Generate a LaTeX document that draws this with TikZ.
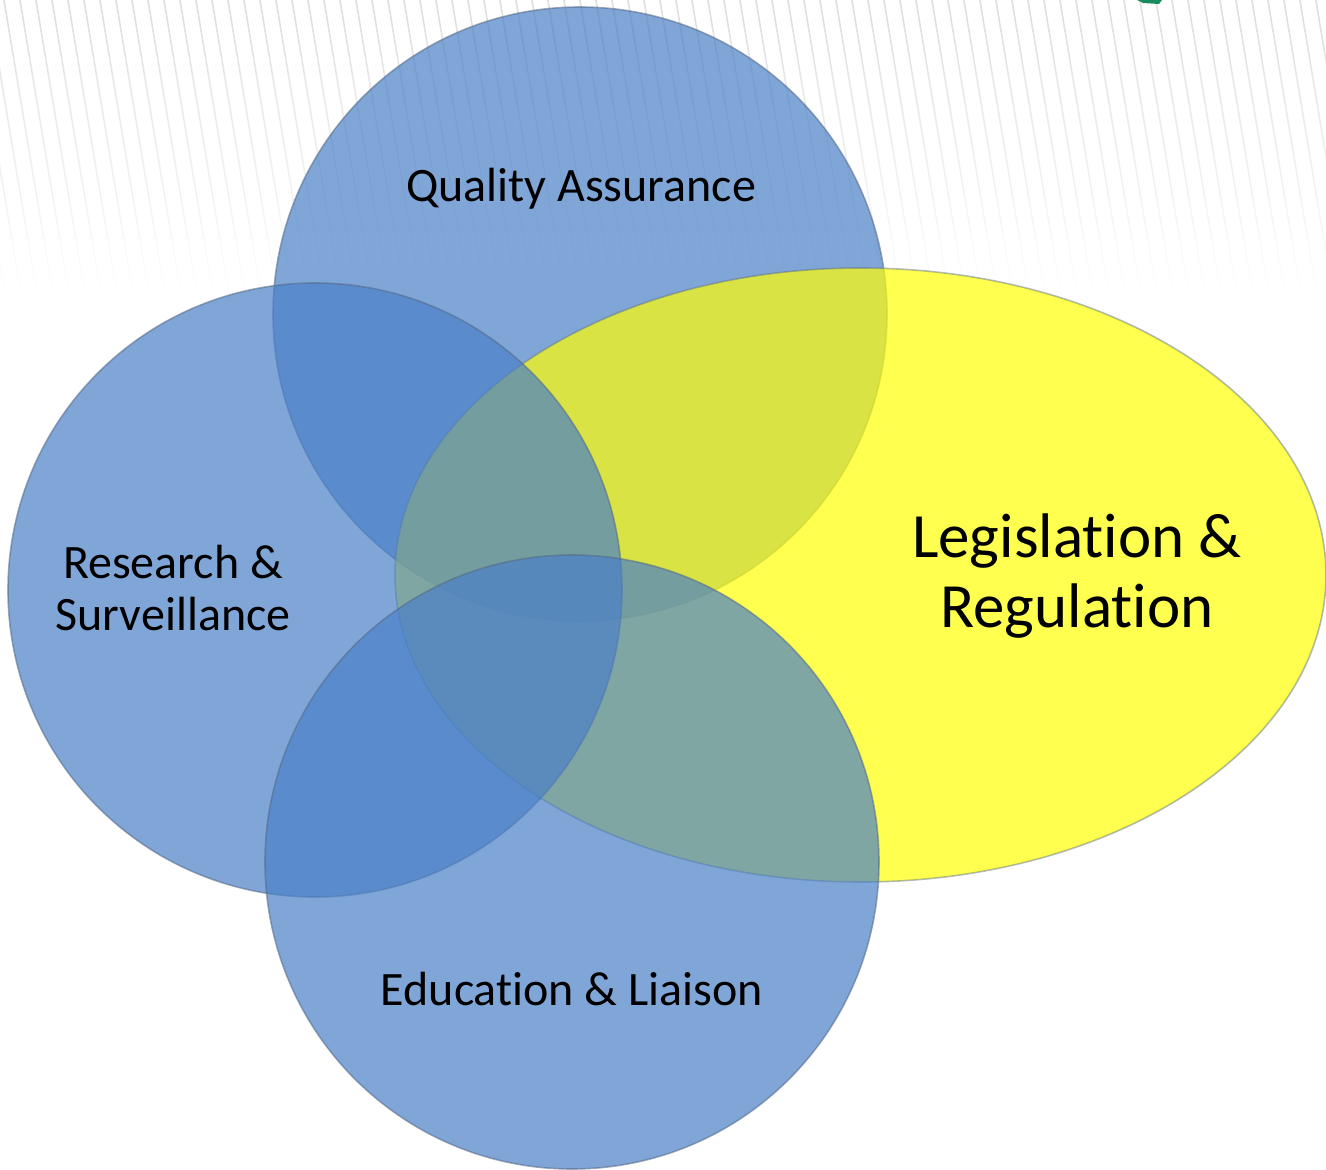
\documentclass[tikz,border=0pt]{standalone}
\usepackage{fontspec}
\setmainfont{Carlito}[Ligatures=NoCommon, RawFeature={-liga;-clig;-calt;-dlig}]
\usetikzlibrary{fadings,shapes.geometric}
\tikzfading[name=fadedown, top color=transparent!0, bottom color=transparent!100]
\definecolor{vblue}{RGB}{74,128,199}
\definecolor{vyellow}{RGB}{255,255,5}
\definecolor{vedge}{RGB}{85,105,135}
\definecolor{stripegray}{RGB}{222,222,222}
\definecolor{logogreen}{RGB}{25,140,95}
\tikzset{
  bluecircle/.style={circle, inner sep=0pt, minimum size=307pt, fill=vblue, fill opacity=0.7, draw=vedge, draw opacity=0.55, line width=0.8pt},
  yellowoval/.style={ellipse, inner sep=0pt, minimum width=465.5pt, minimum height=307pt, fill=vyellow, fill opacity=0.7, draw=vedge, draw opacity=0.45, line width=0.8pt},
  lbl/.style={text=black, inner sep=0pt, align=center, font=\fontsize{24}{26}\selectfont},
  biglbl/.style={text=black, inner sep=0pt, align=center, font=\fontsize{31.5}{35}\selectfont},
  stripe/.style={stripegray, line width=0.8pt}
}
\begin{document}
\begin{tikzpicture}[x=0.5pt,y=-0.5pt]
\useasboundingbox (0,0) rectangle (1326,1170);
% faint background stripes
\draw[stripe, path fading=fadedown] \foreach \i in {-60,-44,...,1400} { (\i,0) -- ++(50,300) };
% logo sliver
\fill[logogreen] (1137,0) -- (1162,0) -- (1159,4) -- (1143,3) -- cycle;
% shapes
\node[bluecircle] (qa) at (580,314) {};
\node[yellowoval] (leg) at (860.5,575) {};
\node[bluecircle] (rs) at (315,590) {};
\node[bluecircle] (el) at (572,862) {};
% labels
\node[lbl, anchor=base] (tqa) at (581,202) {Quality Assurance};
\node[lbl, anchor=base] (trs) at (173,630) {Research \&\\Surveillance};
\node[lbl, anchor=base] (tel) at (572,1005) {Educat\kern0pt ion \& Liaison};
\node[biglbl, anchor=base] (tleg) at (1077,627) {Legislat\kern0pt ion \&\\Regulat\kern0pt ion};
\end{tikzpicture}
\end{document}
